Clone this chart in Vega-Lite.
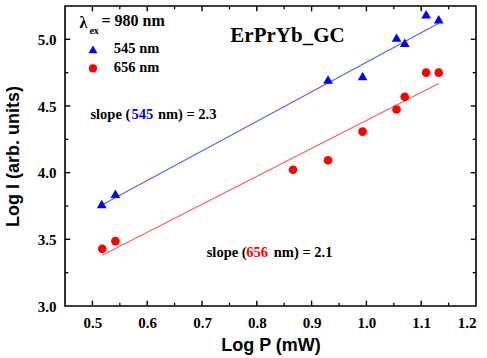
{
  "$schema": "https://vega.github.io/schema/vega-lite/v6.json",
  "width": 411,
  "height": 300,
  "autosize": "none",
  "padding": {"left": 65, "top": 6, "right": 11, "bottom": 52},
  "background": "white",
  "config": {
    "view": {"stroke": "black", "strokeWidth": 1.6},
    "axis": {"grid": false, "domain": false, "ticks": false, "labelColor": "black", "titleColor": "black"}
  },
  "datasets": {
    "pts": [
      {"x": 0.517, "y": 3.765, "s": "545 nm"},
      {"x": 0.542, "y": 3.842, "s": "545 nm"},
      {"x": 0.930, "y": 4.699, "s": "545 nm"},
      {"x": 0.993, "y": 4.724, "s": "545 nm"},
      {"x": 1.055, "y": 5.013, "s": "545 nm"},
      {"x": 1.070, "y": 4.975, "s": "545 nm"},
      {"x": 1.109, "y": 5.188, "s": "545 nm"},
      {"x": 1.132, "y": 5.150, "s": "545 nm"},
      {"x": 0.518, "y": 3.429, "s": "656 nm"},
      {"x": 0.542, "y": 3.487, "s": "656 nm"},
      {"x": 0.866, "y": 4.022, "s": "656 nm"},
      {"x": 0.930, "y": 4.093, "s": "656 nm"},
      {"x": 0.993, "y": 4.308, "s": "656 nm"},
      {"x": 1.055, "y": 4.474, "s": "656 nm"},
      {"x": 1.070, "y": 4.569, "s": "656 nm"},
      {"x": 1.109, "y": 4.750, "s": "656 nm"},
      {"x": 1.132, "y": 4.750, "s": "656 nm"}
    ],
    "fit": [
      {"x": 0.518, "y": 3.76, "s": "545 nm"},
      {"x": 1.132, "y": 5.12, "s": "545 nm"},
      {"x": 0.518, "y": 3.381, "s": "656 nm"},
      {"x": 1.132, "y": 4.669, "s": "656 nm"}
    ],
    "legend": [
      {"x": 0.501, "y": 4.925, "s": "545 nm"},
      {"x": 0.501, "y": 4.782, "s": "656 nm"}
    ],
    "xmaj": [{"v": 0.5}, {"v": 0.6}, {"v": 0.7}, {"v": 0.8}, {"v": 0.9}, {"v": 1.0}, {"v": 1.1}],
    "xmin": [{"v": 0.55}, {"v": 0.65}, {"v": 0.75}, {"v": 0.85}, {"v": 0.95}, {"v": 1.05}, {"v": 1.15}],
    "ymaj": [{"v": 3.5}, {"v": 4.0}, {"v": 4.5}, {"v": 5.0}],
    "ymin": [{"v": 3.25}, {"v": 3.75}, {"v": 4.25}, {"v": 4.75}],
    "txtBlack": [
      {"x": 0.539, "y": 4.925, "t": "545 nm"},
      {"x": 0.539, "y": 4.782, "t": "656 nm"},
      {"x": 0.4964, "y": 4.436, "t": "slope ("},
      {"x": 0.6195, "y": 4.436, "t": "nm) = 2.3"},
      {"x": 0.7086, "y": 3.40, "t": "slope ("},
      {"x": 0.8310, "y": 3.40, "t": "nm) = 2.1"}
    ],
    "txtBlue": [{"x": 0.5715, "y": 4.436, "t": "545"}],
    "txtRed": [{"x": 0.7806, "y": 3.40, "t": "656"}]
  },
  "layer": [
    {
      "data": {"name": "fit"},
      "transform": [{"filter": "datum.s == '545 nm'"}],
      "mark": {"type": "line", "color": "#5a5aff", "strokeWidth": 1.1},
      "encoding": {
        "x": {"field": "x", "type": "quantitative", "scale": {"domain": [0.45, 1.2], "nice": false, "zero": false},
          "axis": {"orient": "bottom", "values": [0.5, 0.6, 0.7, 0.8, 0.9, 1.0, 1.1, 1.2], "format": ".1f",
            "labelFont": "Liberation Serif", "labelFontWeight": "bold", "labelFontSize": 15, "labelPadding": 9,
            "title": "Log P (mW)", "titleFont": "Liberation Sans", "titleFontSize": 18, "titleFontWeight": "bold", "titlePadding": 6}},
        "y": {"field": "y", "type": "quantitative", "scale": {"domain": [3, 5.25], "nice": false, "zero": false},
          "axis": {"orient": "left", "values": [3.0, 3.5, 4.0, 4.5, 5.0], "format": ".1f",
            "labelFont": "Liberation Serif", "labelFontWeight": "bold", "labelFontSize": 15, "labelPadding": 9,
            "title": "Log I (arb. units)", "titleFont": "Liberation Sans", "titleFontSize": 18, "titleFontWeight": "bold", "titlePadding": 15}}
      }
    },
    {
      "data": {"name": "fit"},
      "transform": [{"filter": "datum.s == '656 nm'"}],
      "mark": {"type": "line", "color": "#ff5a5a", "strokeWidth": 1.1},
      "encoding": {
        "x": {"field": "x", "type": "quantitative"},
        "y": {"field": "y", "type": "quantitative"}
      }
    },
    {
      "data": {"name": "xmaj"},
      "mark": {"type": "rule", "color": "black", "strokeWidth": 1.4},
      "encoding": {"x": {"field": "v", "type": "quantitative"}, "y": {"datum": 3}, "y2": {"datum": 3.04}}
    },
    {
      "data": {"name": "xmaj"},
      "mark": {"type": "rule", "color": "black", "strokeWidth": 1.4},
      "encoding": {"x": {"field": "v", "type": "quantitative"}, "y": {"datum": 5.25}, "y2": {"datum": 5.21}}
    },
    {
      "data": {"name": "xmin"},
      "mark": {"type": "rule", "color": "black", "strokeWidth": 1.3},
      "encoding": {"x": {"field": "v", "type": "quantitative"}, "y": {"datum": 3}, "y2": {"datum": 3.025}}
    },
    {
      "data": {"name": "xmin"},
      "mark": {"type": "rule", "color": "black", "strokeWidth": 1.3},
      "encoding": {"x": {"field": "v", "type": "quantitative"}, "y": {"datum": 5.25}, "y2": {"datum": 5.225}}
    },
    {
      "data": {"name": "ymaj"},
      "mark": {"type": "rule", "color": "black", "strokeWidth": 1.4},
      "encoding": {"y": {"field": "v", "type": "quantitative"}, "x": {"datum": 0.45}, "x2": {"datum": 0.4595}}
    },
    {
      "data": {"name": "ymaj"},
      "mark": {"type": "rule", "color": "black", "strokeWidth": 1.4},
      "encoding": {"y": {"field": "v", "type": "quantitative"}, "x": {"datum": 1.2}, "x2": {"datum": 1.1905}}
    },
    {
      "data": {"name": "ymin"},
      "mark": {"type": "rule", "color": "black", "strokeWidth": 1.3},
      "encoding": {"y": {"field": "v", "type": "quantitative"}, "x": {"datum": 0.45}, "x2": {"datum": 0.456}}
    },
    {
      "data": {"name": "ymin"},
      "mark": {"type": "rule", "color": "black", "strokeWidth": 1.3},
      "encoding": {"y": {"field": "v", "type": "quantitative"}, "x": {"datum": 1.2}, "x2": {"datum": 1.194}}
    },
    {
      "data": {"name": "pts"},
      "transform": [{"filter": "datum.s == '545 nm'"}],
      "mark": {"type": "point", "shape": "triangle-up", "filled": true, "color": "#0000ff", "size": 95, "opacity": 1},
      "encoding": {
        "x": {"field": "x", "type": "quantitative"},
        "y": {"field": "y", "type": "quantitative"}
      }
    },
    {
      "data": {"name": "pts"},
      "transform": [{"filter": "datum.s == '656 nm'"}],
      "mark": {"type": "point", "shape": "circle", "filled": true, "color": "#ff0000", "size": 75, "opacity": 1},
      "encoding": {
        "x": {"field": "x", "type": "quantitative"},
        "y": {"field": "y", "type": "quantitative"}
      }
    },
    {
      "data": {"name": "legend"},
      "transform": [{"filter": "datum.s == '545 nm'"}],
      "mark": {"type": "point", "shape": "triangle-up", "filled": true, "color": "#0000ff", "size": 80, "opacity": 1},
      "encoding": {
        "x": {"field": "x", "type": "quantitative"},
        "y": {"field": "y", "type": "quantitative"}
      }
    },
    {
      "data": {"name": "legend"},
      "transform": [{"filter": "datum.s == '656 nm'"}],
      "mark": {"type": "point", "shape": "circle", "filled": true, "color": "#ff0000", "size": 65, "opacity": 1},
      "encoding": {
        "x": {"field": "x", "type": "quantitative"},
        "y": {"field": "y", "type": "quantitative"}
      }
    },
    {
      "data": {"name": "txtBlack"},
      "mark": {"type": "text", "align": "left", "baseline": "middle", "font": "Liberation Serif", "fontWeight": "bold", "fontSize": 14.5, "color": "black"},
      "encoding": {
        "x": {"field": "x", "type": "quantitative"},
        "y": {"field": "y", "type": "quantitative"},
        "text": {"field": "t"}
      }
    },
    {
      "data": {"name": "txtBlue"},
      "mark": {"type": "text", "align": "left", "baseline": "middle", "font": "Liberation Serif", "fontWeight": "bold", "fontSize": 14.5, "color": "#0000ff"},
      "encoding": {
        "x": {"field": "x", "type": "quantitative"},
        "y": {"field": "y", "type": "quantitative"},
        "text": {"field": "t"}
      }
    },
    {
      "data": {"name": "txtRed"},
      "mark": {"type": "text", "align": "left", "baseline": "middle", "font": "Liberation Serif", "fontWeight": "bold", "fontSize": 14.5, "color": "#ff0000"},
      "encoding": {
        "x": {"field": "x", "type": "quantitative"},
        "y": {"field": "y", "type": "quantitative"},
        "text": {"field": "t"}
      }
    },
    {
      "data": {"values": [{"x": 0.4765, "y": 5.125, "t": "λ"}, {"x": 0.5166, "y": 5.134, "t": "= 980 nm"}]},
      "mark": {"type": "text", "align": "left", "baseline": "middle", "font": "Liberation Serif", "fontWeight": "bold", "fontSize": 16, "color": "black"},
      "encoding": {
        "x": {"field": "x", "type": "quantitative"},
        "y": {"field": "y", "type": "quantitative"},
        "text": {"field": "t"}
      }
    },
    {
      "data": {"values": [{"x": 0.4945, "y": 5.065, "t": "ex"}]},
      "mark": {"type": "text", "align": "left", "baseline": "middle", "font": "Liberation Serif", "fontWeight": "bold", "fontSize": 10, "color": "black"},
      "encoding": {
        "x": {"field": "x", "type": "quantitative"},
        "y": {"field": "y", "type": "quantitative"},
        "text": {"field": "t"}
      }
    },
    {
      "data": {"values": [{"x": 0.856, "y": 5.025, "t": "ErPrYb_GC"}]},
      "mark": {"type": "text", "align": "center", "baseline": "middle", "font": "Liberation Serif", "fontWeight": "bold", "fontSize": 21, "color": "black"},
      "encoding": {
        "x": {"field": "x", "type": "quantitative"},
        "y": {"field": "y", "type": "quantitative"},
        "text": {"field": "t"}
      }
    }
  ]
}
